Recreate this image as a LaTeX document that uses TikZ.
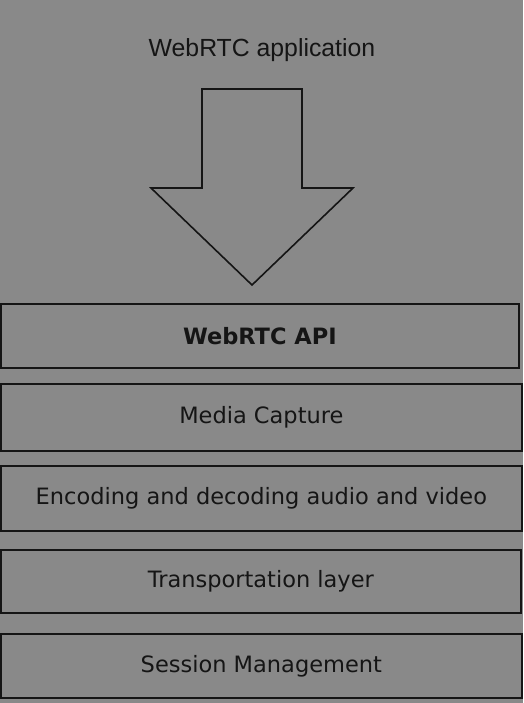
\documentclass[tikz,border=0pt]{standalone}
\usepackage{fontspec}
\newfontfamily\titlefont{Liberation Sans}
\newfontfamily\layerfont{DejaVu Sans}
\definecolor{bg}{HTML}{898989}
\definecolor{ink}{HTML}{151515}
\begin{document}
\begin{tikzpicture}[x=1pt,y=-1pt,
  layer/.style={draw=ink, line width=1.7pt, inner sep=0pt, anchor=north west,
    minimum height=64pt, text=ink, font=\layerfont\fontsize{22.5}{24}\selectfont},
  bigarrow/.style={draw=ink, line width=1.6pt, line join=miter}]
  \fill[bg] (0,0) rectangle (523,703);
  \useasboundingbox (0,0) rectangle (523,703);

  \node[text=ink, font=\titlefont\fontsize{24.8}{26}\selectfont] (app) at (262,50) {WebRTC application};

  % downward block arrow
  \draw[bigarrow] (202,89) -- (302,89) -- (302,188) -- (353,188) -- (252,285)
    -- (151,188) -- (202,188) -- cycle;

  % protocol stack
  \node[layer, minimum width=518pt, font=\layerfont\bfseries\fontsize{22.5}{24}\selectfont] (api) at (0,303) {WebRTC API};
  \node[layer, minimum width=521pt, minimum height=67pt] (capture) at (0,383) {Media Capture};
  \node[layer, minimum width=521pt, minimum height=65pt] (codec) at (0,465) {Encoding and decoding audio and video};
  \node[layer, minimum width=520pt, minimum height=63pt] (transport) at (0,549) {Transportation layer};
  \node[layer, minimum width=521pt, minimum height=64pt] (session) at (0,633) {Session Management};
\end{tikzpicture}
\end{document}
